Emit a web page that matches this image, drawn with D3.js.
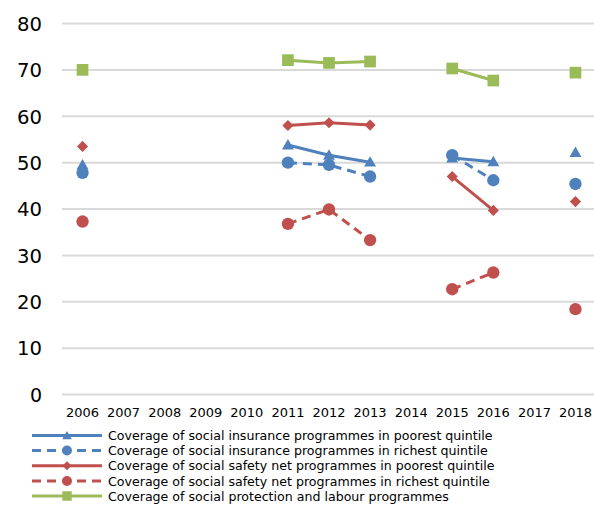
<!DOCTYPE html>
<html>
<head>
<meta charset="utf-8">
<script src="https://cdn.jsdelivr.net/npm/d3@7"></script>
<style>
  html, body { margin: 0; padding: 0; background: #fff; }
  svg { display: block; font-family: "DejaVu Sans", sans-serif; }
</style>
</head>
<body>
<svg id="chart" width="594" height="506"></svg>
<script>
// Survey years on the category axis
const years = ["2006","2007","2008","2009","2010","2011","2012","2013","2014","2015","2016","2017","2018"];
const yTicks = [0, 10, 20, 30, 40, 50, 60, 70, 80];

// Coverage (%) per year; null = no survey that year
const siPoorest  = [49.5, null, null, null, null, 53.8, 51.6, 50.1, null, 51.0, 50.2, null, 52.2];
const siRichest  = [47.8, null, null, null, null, 50.0, 49.5, 47.0, null, 51.6, 46.2, null, 45.4];
const ssnPoorest = [53.5, null, null, null, null, 58.0, 58.6, 58.1, null, 47.0, 39.7, null, 41.6];
const ssnRichest = [37.3, null, null, null, null, 36.8, 39.9, 33.3, null, 22.7, 26.3, null, 18.4];
const spAll      = [70.0, null, null, null, null, 72.1, 71.5, 71.8, null, 70.3, 67.7, null, 69.4];

const seriesNames = [
  "Coverage of social insurance programmes in poorest quintile",
  "Coverage of social insurance programmes in richest quintile",
  "Coverage of social safety net programmes in poorest quintile",
  "Coverage of social safety net programmes in richest quintile",
  "Coverage of social protection and labour programmes"
];

const series = [
  { name: seriesNames[0], values: siPoorest,  color: "#4F81BD", dash: null,  marker: "triangle" },
  { name: seriesNames[1], values: siRichest,  color: "#4F81BD", dash: "9,6", marker: "circle" },
  { name: seriesNames[2], values: ssnPoorest, color: "#C0504D", dash: null,  marker: "diamond" },
  { name: seriesNames[3], values: ssnRichest, color: "#C0504D", dash: "9,6", marker: "circle" },
  { name: seriesNames[4], values: spAll,      color: "#9BBB59", dash: null,  marker: "square" }
];

const svg = d3.select("#chart");
const plot = { left: 62, right: 596, top: 23.5, bottom: 394.5 };

const x = d3.scaleBand().domain(years).range([plot.left, plot.right]);
const y = d3.scaleLinear().domain([0, 80]).range([plot.bottom, plot.top]);

// Horizontal gridlines
svg.append("g").selectAll("line").data(yTicks).join("line")
  .attr("x1", plot.left).attr("x2", 594)
  .attr("y1", d => y(d)).attr("y2", d => y(d))
  .attr("stroke", "#D9D9D9").attr("stroke-width", 2);

// Y axis labels
const yAxis = d3.axisLeft(y).tickValues(yTicks).tickSize(0).tickPadding(0);
const gy = svg.append("g").attr("transform", "translate(42,0)").call(yAxis);
gy.select(".domain").remove();
gy.selectAll("text").attr("font-size", 19).attr("fill", "#000")
  .attr("font-family", "DejaVu Sans, sans-serif").attr("dy", "0.36em");
gy.selectAll("text").filter(d => d !== 0)
  .attr("textLength", 25).attr("lengthAdjust", "spacingAndGlyphs");

// X axis labels
const xAxis = d3.axisBottom(x).tickSize(0).tickPadding(0);
const gx = svg.append("g").attr("transform", "translate(0,407)").call(xAxis);
gx.select(".domain").remove();
gx.selectAll("text").attr("font-size", 13).attr("fill", "#000")
  .attr("font-family", "DejaVu Sans, sans-serif").attr("dy", "0.75em")
  .attr("textLength", 33).attr("lengthAdjust", "spacingAndGlyphs");

// Marker shapes (plot size, legend size)
const markerSize = {
  triangle: [62, 40], circle: [120, 78], diamond: [62, 40], square: [137, 90]
};
const markerType = {
  triangle: d3.symbolTriangle, circle: d3.symbolCircle,
  diamond: d3.symbolSquare, square: d3.symbolSquare
};
function drawMarker(g, s, cx, cy, small) {
  const size = markerSize[s.marker][small ? 1 : 0];
  const p = g.append("path")
    .attr("d", d3.symbol().type(markerType[s.marker]).size(size)())
    .attr("fill", s.color);
  if (s.marker === "diamond") p.attr("transform", `translate(${cx},${cy}) rotate(45)`);
  else if (s.marker === "triangle") p.attr("transform", `translate(${cx},${cy + 1})`);
  else p.attr("transform", `translate(${cx},${cy})`);
}

const line = d3.line()
  .defined(d => d.v !== null)
  .x(d => x(d.year) + x.bandwidth() / 2)
  .y(d => y(d.v));

series.forEach(s => {
  const pts = years.map((yr, i) => ({ year: yr, v: s.values[i] }));
  const g = svg.append("g");
  g.append("path").datum(pts).attr("d", line)
    .attr("fill", "none").attr("stroke", s.color).attr("stroke-width", 3)
    .attr("stroke-dasharray", s.dash);
  pts.filter(d => d.v !== null).forEach(d => {
    drawMarker(g, s, x(d.year) + x.bandwidth() / 2, y(d.v), false);
  });
});

// Legend
const legendY = [435.5, 450.5, 465.7, 481, 496];
const legend = svg.append("g");
series.forEach((s, i) => {
  const g = legend.append("g");
  g.append("line").attr("x1", 32).attr("x2", 102)
    .attr("y1", legendY[i]).attr("y2", legendY[i])
    .attr("stroke", s.color).attr("stroke-width", 3)
    .attr("stroke-dasharray", s.dash);
  drawMarker(g, s, 67, legendY[i], true);
  g.append("text").attr("x", 108).attr("y", legendY[i]).attr("dy", "0.36em")
    .attr("font-size", 12.6).attr("fill", "#000").text(s.name);
});
</script>
</body>
</html>
